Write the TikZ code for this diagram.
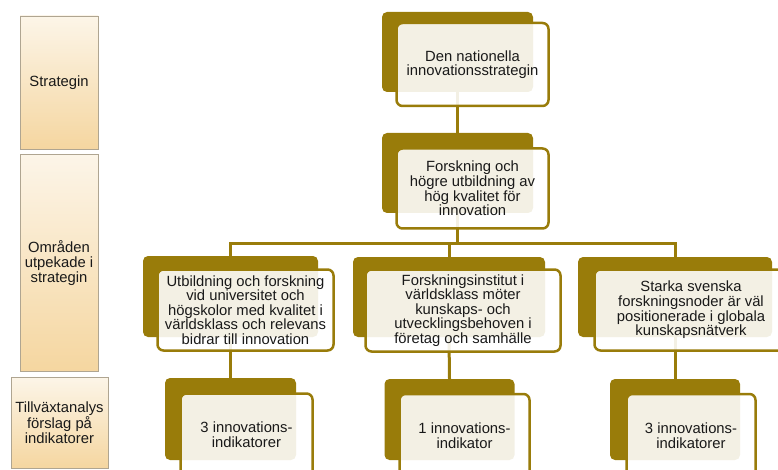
\documentclass[tikz,border=0pt]{standalone}
\usepackage{fontspec}
\setmainfont{Liberation Sans}
\definecolor{olive}{RGB}{153,124,10}
\definecolor{txt}{RGB}{25,25,25}
\definecolor{sideTop}{RGB}{252,245,232}
\definecolor{sideBot}{RGB}{245,214,160}
\definecolor{sideLine}{RGB}{175,165,145}
\tikzset{
  backbox/.style={draw=none, fill=none, inner sep=0pt, outer sep=0pt},
  frontbox/.style={draw=olive, line width=2.5pt, fill=white, fill opacity=0.89, text opacity=1,
     rounded corners=6pt, inner sep=0pt, outer sep=0pt, align=center, text=txt,
     font=\fontsize{14.8}{14.6}\selectfont},
  sidebox/.style={draw=sideLine, line width=0.8pt, top color=sideTop, bottom color=sideBot,
     inner sep=0pt, outer sep=0pt, align=center, text=txt, font=\fontsize{14.8}{14.6}\selectfont},
  conn/.style={draw=olive, line width=3pt}
}
\begin{document}
\begin{tikzpicture}[x=1pt,y=-1pt]
\useasboundingbox (0,0) rectangle (778,470);
\clip (0,0) rectangle (778,470);
% side column
\node[sidebox, minimum width=78pt, minimum height=133pt] (s1) at (59,82.5) {Strategin};
\node[sidebox, minimum width=78pt, minimum height=217pt] (s2) at (59,263) {Områden\\utpekade i\\strategin};
\node[sidebox, minimum width=97pt, minimum height=91pt] (s3) at (59.5,422.5) {Tillväxtanalys\\förslag på\\indikatorer};
% back boxes (positions)
\node[backbox, minimum width=151pt, minimum height=80pt] (b1) at (457.5,52) {};
\node[backbox, minimum width=151pt, minimum height=80pt] (b2) at (457.5,173) {};
\node[backbox, minimum width=175pt, minimum height=81pt] (b3) at (230.5,296.5) {};
\node[backbox, minimum width=192pt, minimum height=80pt] (b4) at (449,297) {};
\node[backbox, minimum width=194pt, minimum height=80pt] (b5) at (675,297) {};
\node[backbox, minimum width=131pt, minimum height=82pt] (b6) at (230.5,419) {};
\node[backbox, minimum width=130pt, minimum height=81pt] (b7) at (449.5,419.5) {};
\node[backbox, minimum width=130pt, minimum height=81pt] (b8) at (675,419.5) {};
% connectors
\draw[conn] (b1.south) -- (b2.north);
\draw[conn] (b2.south) -- ++(0,30) -| (b3.north);
\draw[conn] (b2.south) -- ++(0,30) -| (b4.north);
\draw[conn] (b2.south) -- ++(0,30) -| (b5.north);
\draw[conn] (b3.south) -- (b6.north);
\draw[conn] (b4.south) -- (b7.north);
\draw[conn] (b5.south) -- (b8.north);
% olive back boxes
\foreach \b in {b1,b2,b3,b4,b5,b6,b7,b8}{
  \fill[olive, rounded corners=5pt] (\b.north west) rectangle (\b.south east);
}
% front boxes
\node[frontbox, minimum width=152pt, minimum height=83pt] (f1) at (472.5,64.5) {Den nationella\\innovationsstrategin};
\node[frontbox, minimum width=152pt, minimum height=80pt] (f2) at (472.5,188.5) {Forskning och\\högre utbildning av\\hög kvalitet för\\innovation};
\node[frontbox, minimum width=176pt, minimum height=81pt] (f3) at (245.5,310) {Utbildning och forskning\\vid universitet och\\högskolor med kvalitet i\\världsklass och relevans\\bidrar till innovation};
\node[frontbox, minimum width=195pt, minimum height=82pt] (f4) at (463,310.5) {Forskningsinstitut i\\världsklass möter\\kunskaps- och\\utvecklingsbehoven i\\företag och samhälle};
\node[frontbox, minimum width=193pt, minimum height=81pt] (f5) at (691,310) {Starka svenska\\forskningsnoder är väl\\positionerade i globala\\kunskapsnätverk};
\node[frontbox, minimum width=132pt, minimum height=83pt] (f6) at (246.5,435) {3 innovations-\\indikatorer};
\node[frontbox, minimum width=130pt, minimum height=83pt] (f7) at (464.5,435.5) {1 innovations-\\indikator};
\node[frontbox, minimum width=129pt, minimum height=83pt] (f8) at (691,435.5) {3 innovations-\\indikatorer};
\end{tikzpicture}
\end{document}
